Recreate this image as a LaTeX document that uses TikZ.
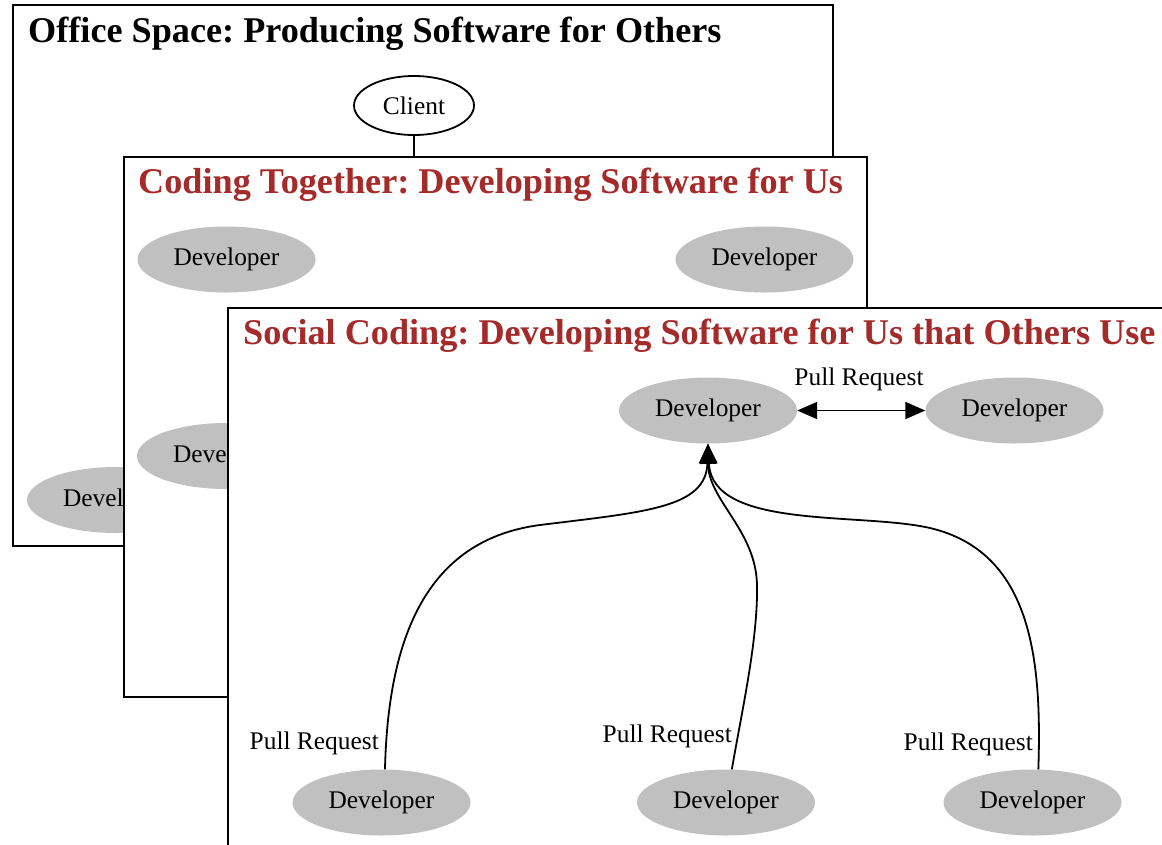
\documentclass[tikz,border=0pt]{standalone}
\usepackage{fontspec}
\setmainfont{Liberation Serif}
\usetikzlibrary{shapes.geometric,arrows.meta}
\definecolor{devgray}{HTML}{C0C0C0}
\definecolor{titlered}{HTML}{A52A2A}
\frenchspacing
\begin{document}
\begin{tikzpicture}[x=1pt,y=-1pt,
  frame/.style={draw=black, line width=1.8pt, fill=white},
  dev/.style={ellipse, fill=devgray, minimum width=178pt, minimum height=66pt, inner sep=0pt, font=\fontsize{25.4}{30}\selectfont},
  clientnode/.style={ellipse, draw=black, line width=1.8pt, fill=white, minimum width=120pt, minimum height=59pt, inner sep=0pt, font=\fontsize{25.4}{30}\selectfont},
  ttl/.style={anchor=base west, inner sep=0pt, font=\fontsize{36.2}{42}\selectfont\bfseries},
  lbl/.style={inner sep=0pt, font=\fontsize{25.4}{30}\selectfont},
  conn/.style={line width=1.8pt},
  tipend/.style={-{Triangle[length=20pt,width=17pt]}},
  tipboth/.style={{Triangle[length=20pt,width=17pt]}-{Triangle[length=20pt,width=17pt]}}
]
\useasboundingbox (0,0) rectangle (1162,844);
\clip (0,0) rectangle (1162,844);

% ---------- Frame 1: Office Space ----------
\draw[frame] (13,5) rectangle (833,546);
\node[ttl] (t1) at (28,42) {Office Space: Producing Software for Others};
\node[clientnode] (client) at (414,105.5) {Client};
\coordinate (c2top) at (414,157);
\draw[conn] (client.south) -- (c2top);
\node[dev] (d1) at (116,500) {Developer};

% ---------- Frame 2: Coding Together ----------
\draw[frame] (124,157) rectangle (867,697);
\node[ttl, text=titlered] (t2) at (138,193) {Coding Together: Developing Software for Us};
\node[dev] (d2a) at (226.5,259.5) {Developer};
\node[dev] (d2b) at (764.5,259.5) {Developer};
\node[dev] (d2c) at (226,456) {Developer};

% ---------- Frame 3: Social Coding ----------
\draw[frame] (228,308) rectangle (1200,900);
\node[ttl, text=titlered] (t3) at (243,344) {Social Coding: Developing Software for Us that Others Use};
\node[dev] (top) at (708,410.5) {Developer};
\node[dev] (right) at (1014.5,410.5) {Developer};
\node[dev] (b1) at (381.5,802.5) {Developer};
\node[dev] (b2) at (726,802.5) {Developer};
\node[dev] (b3) at (1032.5,802.5) {Developer};

\draw[conn, tipboth] (top.east) -- (right.west);
\node[lbl, anchor=base] (l0) at (859,385) {Pull Request};

\draw[conn, tipend] (b1.84) .. controls (388,640) and (425,540) .. (540,525)
   .. controls (645,512) and (706,508) .. (top.south);
\draw[conn, tipend] (b2.80) .. controls (742,710) and (758,640) .. (757,585)
   .. controls (756,530) and (708,500) .. (top.south);
\draw[conn, tipend] (b3.80) .. controls (1042,660) and (1032,552) .. (930,528)
   .. controls (860,512) and (712,530) .. (top.south);

\node[lbl, anchor=base east] (l1) at (379,749) {Pull Request};
\node[lbl, anchor=base east] (l2) at (732,742) {Pull Request};
\node[lbl, anchor=base east] (l3) at (1033,750) {Pull Request};
\end{tikzpicture}
\end{document}
